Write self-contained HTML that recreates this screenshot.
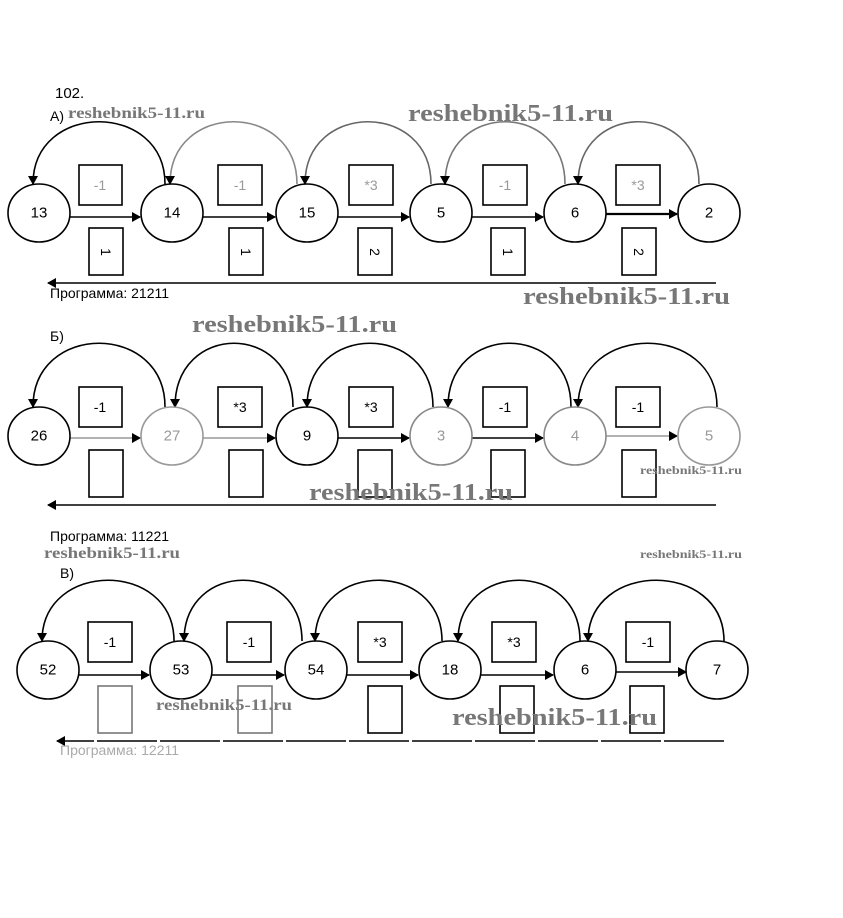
<!DOCTYPE html>
<html><head><meta charset="utf-8"><style>
html,body{margin:0;padding:0;background:#fff;}
svg{display:block;}
text{font-family:"Liberation Sans","DejaVu Sans",sans-serif;}
.n{font-size:15px;text-anchor:middle;dominant-baseline:central;}
.b{font-size:14px;text-anchor:middle;dominant-baseline:central;}
.w text{font-family:"Liberation Serif",serif;font-weight:bold;fill:#777;}
</style></head><body>
<svg width="843" height="918" viewBox="0 0 843 918" xmlns="http://www.w3.org/2000/svg">
<defs><marker id="a" markerWidth="10" markerHeight="10" refX="8" refY="5" orient="auto" markerUnits="userSpaceOnUse"><path d="M0,0 L9,5 L0,10 z" fill="#000"/></marker></defs>
<g fill="none" stroke="#000" stroke-width="1.6">
<path d="M165,184 C165,101 33,101 33,184" marker-end="url(#a)"/>
<path d="M297,184 C297,101 170,101 170,184" marker-end="url(#a)" stroke="#888"/>
<path d="M431,184 C431,101 305,101 305,184" marker-end="url(#a)" stroke="#666"/>
<path d="M565,184 C565,101 445,101 445,184" marker-end="url(#a)" stroke="#777"/>
<path d="M699,184 C699,101 578,101 578,184" marker-end="url(#a)" stroke="#666"/>
<line x1="70" y1="217" x2="140" y2="217" marker-end="url(#a)"/>
<line x1="203" y1="217" x2="275" y2="217" marker-end="url(#a)"/>
<line x1="338" y1="217" x2="409" y2="217" marker-end="url(#a)"/>
<line x1="472" y1="217" x2="543" y2="217" marker-end="url(#a)"/>
<line x1="606" y1="214" x2="677" y2="214" marker-end="url(#a)" stroke-width="2.2"/>
<line x1="716" y1="283" x2="48" y2="283" marker-end="url(#a)"/>
<rect x="79" y="165" width="43" height="40"/><rect x="218" y="165" width="44" height="40"/><rect x="349" y="165" width="44" height="40"/><rect x="483" y="165" width="44" height="40"/><rect x="616" y="165" width="44" height="40"/>
<rect x="89" y="228" width="34" height="47"/><rect x="229" y="228" width="34" height="47"/><rect x="358" y="228" width="34" height="47"/><rect x="491" y="228" width="34" height="47"/><rect x="622" y="228" width="34" height="47"/>
<ellipse cx="39" cy="213" rx="31" ry="29"/><ellipse cx="172" cy="213" rx="31" ry="29"/><ellipse cx="307" cy="213" rx="31" ry="29"/><ellipse cx="441" cy="213" rx="31" ry="29"/><ellipse cx="575" cy="213" rx="31" ry="29"/><ellipse cx="709" cy="213" rx="31" ry="29"/>
<path d="M165,407 C165,322 33,322 33,407" marker-end="url(#a)"/>
<path d="M293,407 C293,322 175,322 175,407" marker-end="url(#a)"/>
<path d="M433,407 C433,322 307,322 307,407" marker-end="url(#a)"/>
<path d="M571,407 C571,322 448,322 448,407" marker-end="url(#a)"/>
<path d="M717,407 C717,322 578,322 578,407" marker-end="url(#a)"/>
<line x1="70" y1="438" x2="140" y2="438" marker-end="url(#a)" stroke="#999"/>
<line x1="203" y1="438" x2="275" y2="438" marker-end="url(#a)" stroke="#999"/>
<line x1="338" y1="438" x2="409" y2="438" marker-end="url(#a)"/>
<line x1="472" y1="438" x2="543" y2="438" marker-end="url(#a)"/>
<line x1="606" y1="436" x2="677" y2="436" marker-end="url(#a)" stroke="#999"/>
<line x1="716" y1="505" x2="48" y2="505" marker-end="url(#a)"/>
<rect x="79" y="387" width="43" height="40"/><rect x="218" y="387" width="44" height="40"/><rect x="349" y="387" width="44" height="40"/><rect x="483" y="387" width="44" height="40"/><rect x="616" y="387" width="44" height="40"/>
<rect x="89" y="450" width="34" height="47"/><rect x="229" y="450" width="34" height="47"/><rect x="358" y="450" width="34" height="47"/><rect x="491" y="450" width="34" height="47"/><rect x="622" y="450" width="34" height="47"/>
<ellipse cx="39" cy="436" rx="31" ry="29"/><ellipse cx="172" cy="436" rx="31" ry="29" stroke="#999"/><ellipse cx="307" cy="436" rx="31" ry="29"/><ellipse cx="441" cy="436" rx="31" ry="29" stroke="#888"/><ellipse cx="575" cy="436" rx="31" ry="29" stroke="#888"/><ellipse cx="709" cy="436" rx="31" ry="29" stroke="#999"/>
<path d="M174,641 C174,560 42,560 42,641" marker-end="url(#a)"/>
<path d="M302,641 C302,560 184,560 184,641" marker-end="url(#a)"/>
<path d="M442,641 C442,560 315,560 315,641" marker-end="url(#a)"/>
<path d="M580,641 C580,560 458,560 458,641" marker-end="url(#a)"/>
<path d="M724,641 C724,560 588,560 588,641" marker-end="url(#a)"/>
<line x1="79" y1="675" x2="149" y2="675" marker-end="url(#a)"/>
<line x1="212" y1="675" x2="284" y2="675" marker-end="url(#a)"/>
<line x1="347" y1="675" x2="418" y2="675" marker-end="url(#a)"/>
<line x1="481" y1="675" x2="553" y2="675" marker-end="url(#a)"/>
<line x1="616" y1="672" x2="686" y2="672" marker-end="url(#a)"/>
<line x1="724" y1="741" x2="57" y2="741" marker-end="url(#a)" stroke-dasharray="60 3"/>
<rect x="88" y="622" width="44" height="40"/><rect x="227" y="622" width="44" height="40"/><rect x="358" y="622" width="44" height="40"/><rect x="492" y="622" width="44" height="40"/><rect x="626" y="622" width="44" height="40"/>
<rect x="98" y="686" width="34" height="47" stroke="#777"/><rect x="238" y="686" width="34" height="47" stroke="#777"/><rect x="368" y="686" width="34" height="47"/><rect x="500" y="686" width="34" height="47"/><rect x="630" y="686" width="34" height="47"/>
<ellipse cx="48" cy="670" rx="31" ry="29"/><ellipse cx="181" cy="670" rx="31" ry="29"/><ellipse cx="316" cy="670" rx="31" ry="29"/><ellipse cx="450" cy="670" rx="31" ry="29"/><ellipse cx="585" cy="670" rx="31" ry="29"/><ellipse cx="717" cy="670" rx="31" ry="29"/>
</g>
<g fill="#000">
<text x="55" y="98" style="font-size:15px">102.</text>
<text x="50" y="121" style="font-size:14px">А)</text>
<text class="n" x="39" y="213">13</text><text class="n" x="172" y="213">14</text><text class="n" x="307" y="213">15</text><text class="n" x="441" y="213">5</text><text class="n" x="575" y="213">6</text><text class="n" x="709" y="213">2</text>
<g fill="#999"><text class="b" x="100" y="185">-1</text><text class="b" x="240" y="185">-1</text><text class="b" x="371" y="185">*3</text><text class="b" x="505" y="185">-1</text><text class="b" x="638" y="185">*3</text></g>
<text class="b" x="106" y="252" transform="rotate(90 106 252)">1</text><text class="b" x="246" y="252" transform="rotate(90 246 252)">1</text><text class="b" x="375" y="252" transform="rotate(90 375 252)">2</text><text class="b" x="508" y="252" transform="rotate(90 508 252)">1</text><text class="b" x="639" y="252" transform="rotate(90 639 252)">2</text>
<text x="50" y="298" style="font-size:14px">Программа: 21211</text>
<text x="50" y="341" style="font-size:14px">Б)</text>
<text class="n" x="39" y="436">26</text><text class="n" x="172" y="436" fill="#999">27</text><text class="n" x="307" y="436">9</text><text class="n" x="441" y="436" fill="#999">3</text><text class="n" x="575" y="436" fill="#999">4</text><text class="n" x="709" y="436" fill="#999">5</text>
<text class="b" x="100" y="407">-1</text><text class="b" x="240" y="407">*3</text><text class="b" x="371" y="407">*3</text><text class="b" x="505" y="407">-1</text><text class="b" x="638" y="407">-1</text>
<text x="50" y="541" style="font-size:14px">Программа: 11221</text>
<text x="60" y="578" style="font-size:14px">В)</text>
<text class="n" x="48" y="670">52</text><text class="n" x="181" y="670">53</text><text class="n" x="316" y="670">54</text><text class="n" x="450" y="670">18</text><text class="n" x="585" y="670">6</text><text class="n" x="717" y="670">7</text>
<text class="b" x="110" y="642">-1</text><text class="b" x="249" y="642">-1</text><text class="b" x="380" y="642">*3</text><text class="b" x="514" y="642">*3</text><text class="b" x="648" y="642">-1</text>
<text x="60" y="755" style="font-size:14px" fill="#aaa">Программа: 12211</text>
</g>
<g class="w">
<text x="68" y="118" font-size="16" textLength="137" lengthAdjust="spacingAndGlyphs">reshebnik5-11.ru</text>
<text x="408" y="121" font-size="24" textLength="205" lengthAdjust="spacingAndGlyphs">reshebnik5-11.ru</text>
<text x="523" y="304" font-size="24" textLength="207" lengthAdjust="spacingAndGlyphs">reshebnik5-11.ru</text>
<text x="192" y="332" font-size="24" textLength="205" lengthAdjust="spacingAndGlyphs">reshebnik5-11.ru</text>
<text x="309" y="500" font-size="24" textLength="204" lengthAdjust="spacingAndGlyphs">reshebnik5-11.ru</text>
<text x="640" y="474" font-size="12" textLength="102" lengthAdjust="spacingAndGlyphs">reshebnik5-11.ru</text>
<text x="44" y="558" font-size="16" textLength="136" lengthAdjust="spacingAndGlyphs">reshebnik5-11.ru</text>
<text x="640" y="558" font-size="12" textLength="102" lengthAdjust="spacingAndGlyphs">reshebnik5-11.ru</text>
<text x="156" y="710" font-size="16" textLength="136" lengthAdjust="spacingAndGlyphs">reshebnik5-11.ru</text>
<text x="452" y="725" font-size="24" textLength="205" lengthAdjust="spacingAndGlyphs">reshebnik5-11.ru</text>
</g>
</svg>
</body></html>
